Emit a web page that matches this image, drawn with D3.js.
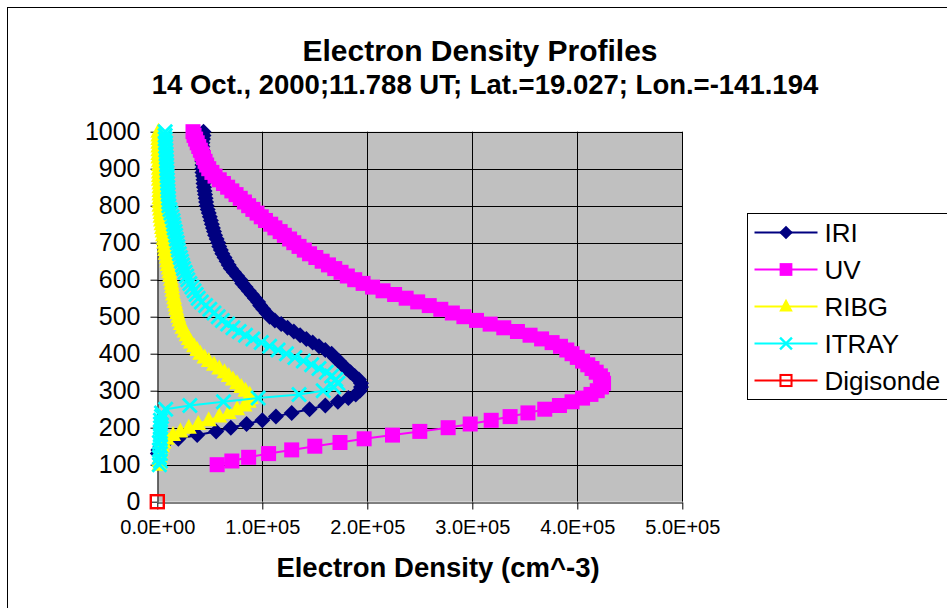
<!DOCTYPE html>
<html>
<head>
<meta charset="utf-8">
<script src="https://cdn.jsdelivr.net/npm/d3@7"></script>
<style>
  body { margin: 0; background: #fff; }
  text { font-family: Arial, "Liberation Sans", sans-serif; fill: #000; }
</style>
</head>
<body>
<div id="chart"></div>
<script>
// altitude (km), shared by the model profiles
var heights = [
  100, 110, 120, 130, 140, 150, 160, 170, 180, 190,
  200, 210, 220, 230, 240, 250, 260, 270, 280, 290,
  300, 310, 320, 330, 340, 350, 360, 370, 380, 390,
  400, 410, 420, 430, 440, 450, 460, 470, 480, 490,
  500, 510, 520, 530, 540, 550, 560, 570, 580, 590,
  600, 610, 620, 630, 640, 650, 660, 670, 680, 690,
  700, 710, 720, 730, 740, 750, 760, 770, 780, 790,
  800, 810, 820, 830, 840, 850, 860, 870, 880, 890,
  900, 910, 920, 930, 940, 950, 960, 970, 980, 990,
  1000
];

// electron density (cm^-3) per height
var iri = [
  null, null, null, 500, 1000, 3000, 8000, 20000, 38000, 56000,
  70000, 85000, 100000, 113000, 128000, 145000, 160000, 172000, 182000, 189000,
  193000, 194000, 194000, 192000, 188000, 184000, 180000, 176000, 173000, 169000,
  166000, 160000, 154000, 148000, 142000, 136000, 130000, 124000, 118000, 112000,
  107000, 104000, 101000, 98000, 96000, 93000, 90000, 87000, 84000, 81000,
  79000, 76000, 73000, 70000, 68000, 66000, 64000, 62000, 60500, 59000,
  58000, 56500, 55000, 54000, 53000, 52000, 51000, 50000, 49000, 48000,
  47000, 46500, 46000, 45500, 45000, 44500, 44000, 44000, 43500, 43000,
  43000, 43000, 43000, 43000, 43000, 43000, 43000, 43000, 43500, 44000,
  44000
];

var uv = [
  57000, 71000, 87000, 106000, 128000, 150000, 174000, 197000, 224000, 250000,
  277000, 298000, 318000, 336000, 353000, 369000, 383000, 395000, 405000, 413000,
  419000, 423000, 425000, 424000, 422000, 418000, 414000, 410000, 405000, 400000,
  395000, 390000, 384000, 376000, 366000, 355000, 343000, 330000, 317000, 304000,
  292000, 281000, 270000, 259000, 248000, 237000, 226000, 215000, 205000, 196000,
  188000, 181000, 175000, 169000, 163000, 157000, 151000, 145000, 140000, 135000,
  130000, 126000, 121000, 117000, 112000, 108000, 103000, 99000, 95000, 91000,
  87000, 83000, 79000, 75000, 71000, 67000, 63000, 59000, 55000, 52000,
  49000, 47000, 45500, 44000, 42500, 41000, 39500, 38000, 36500, 35000,
  34000
];

var ribg = [
  2000, 2000, 2500, 3000, 3500, 4500, 6000, 9000, 15000, 22000,
  30000, 39000, 49000, 59000, 68000, 76000, 83000, 87000, 89000, 88000,
  84000, 80000, 76000, 72000, 68000, 64000, 59000, 54000, 49000, 45000,
  41000, 38000, 35000, 32000, 30000, 28000, 26000, 24000, 22500, 21000,
  20000, 19000, 18000, 17500, 16500, 16000, 15000, 14500, 14000, 13500,
  13000, 12000, 11500, 11000, 10000, 9500, 9000, 8000, 7500, 7000,
  6500, 6000, 5500, 5000, 4500, 4000, 3500, 3000, 3000, 2500,
  2000, 2000, 2000, 2000, 2000, 2000, 2000, 1500, 1500, 1500,
  1500, 1500, 1500, 1000, 1000, 1000, 1000, 1000, 1000, 1000,
  1000
];

var itray = [
  2000, 3000, 2000, 3000, 2000, 3000, 2000, 3000, 3000, 3000,
  3000, 3000, 3000, 4000, 4000, 8000, 31000, 63000, 96000, 135000,
  158000, 168000, 172000, 170000, 166000, 161000, 154000, 147000, 139000, 131000,
  123000, 115000, 107000, 99000, 91000, 84000, 78000, 72000, 67000, 62000,
  58000, 54000, 50000, 46000, 42000, 39000, 37000, 35000, 33000, 31000,
  29000, 28000, 26500, 25000, 24000, 23000, 22000, 21000, 20000, 19500,
  19000, 18000, 17500, 17000, 16000, 15500, 15000, 14000, 13000, 12000,
  11000, 10800, 10600, 10400, 10200, 10000, 9800, 9600, 9400, 9200,
  9000, 9000, 8800, 8600, 8400, 8200, 8000, 7800, 7500, 7500,
  7500
];

// digisonde: single point
var digiHeights = [0];
var digi = [0];

var seriesNames = ["IRI", "UV", "RIBG", "ITRAY", "Digisonde"];
var seriesColors = ["#000080", "#FF00FF", "#FFFF00", "#00FFFF", "#FF0000"];
var seriesMarkers = ["diamond", "square", "triangle", "x", "open"];

var xTicks = [0, 100000, 200000, 300000, 400000, 500000];
var yTicks = [0, 100, 200, 300, 400, 500, 600, 700, 800, 900, 1000];

// set up layout
var W = 947, H = 608;
var plot = { left: 157.3, right: 682.3, top: 131.7, bottom: 501.7 };

var svg = d3.select("#chart").append("svg")
    .attr("width", W)
    .attr("height", H);

// chart area border
svg.append("rect")
    .attr("x", 7.5).attr("y", 7.5)
    .attr("width", 960).attr("height", 620)
    .attr("fill", "#fff")
    .attr("stroke", "#000");

var x = d3.scaleLinear().domain([0, 500000]).range([plot.left, plot.right]);
var y = d3.scaleLinear().domain([0, 1000]).range([plot.bottom, plot.top]);

// plot area
svg.append("rect")
    .attr("x", plot.left).attr("y", plot.top)
    .attr("width", plot.right - plot.left)
    .attr("height", plot.bottom - plot.top)
    .attr("fill", "#C0C0C0");

// gridlines
svg.append("g").selectAll("line")
    .data(yTicks.slice(1))
    .enter().append("line")
    .attr("x1", plot.left).attr("x2", plot.right)
    .attr("y1", function (d) { return Math.round(y(d)) + 0.5; })
    .attr("y2", function (d) { return Math.round(y(d)) + 0.5; })
    .attr("stroke", "#000");

svg.append("g").selectAll("line")
    .data(xTicks.slice(1))
    .enter().append("line")
    .attr("y1", plot.top).attr("y2", plot.bottom)
    .attr("x1", function (d) { return Math.round(x(d)) + 0.5; })
    .attr("x2", function (d) { return Math.round(x(d)) + 0.5; })
    .attr("stroke", "#000");

function sci(d) {
    if (d === 0) return "0.0E+00";
    var e = Math.floor(Math.log10(d));
    var m = d / Math.pow(10, e);
    return m.toFixed(1) + "E+" + (e < 10 ? "0" + e : e);
}

// x-axis
var xAxis = svg.append("g")
    .attr("transform", "translate(0," + (Math.round(plot.bottom) + 0.5) + ")")
    .call(d3.axisBottom(x).tickValues(xTicks).tickFormat(sci).tickSize(7).tickPadding(10).tickSizeOuter(0));
xAxis.selectAll("text").attr("font-size", 20).attr("font-family", "Arial, 'Liberation Sans', sans-serif");

// y-axis
var yAxis = svg.append("g")
    .attr("transform", "translate(" + (Math.round(plot.left) + 0.5) + ",0)")
    .call(d3.axisLeft(y).tickValues(yTicks).tickFormat(d3.format("d")).tickSize(7).tickPadding(10).tickSizeOuter(0));
yAxis.selectAll("text").attr("font-size", 25).attr("font-family", "Arial, 'Liberation Sans', sans-serif");
svg.selectAll(".domain, .tick line").attr("stroke", "#000");

// titles
svg.append("text")
    .attr("x", 480).attr("y", 61)
    .attr("text-anchor", "middle")
    .attr("font-size", 30).attr("font-weight", "bold")
    .text("Electron Density Profiles");

svg.append("text")
    .attr("x", 485).attr("y", 94)
    .attr("text-anchor", "middle")
    .attr("font-size", 27.5).attr("font-weight", "bold")
    .text("14 Oct., 2000;11.788 UT; Lat.=19.027; Lon.=-141.194");

svg.append("text")
    .attr("x", 438).attr("y", 577)
    .attr("text-anchor", "middle")
    .attr("font-size", 27.5).attr("font-weight", "bold")
    .text("Electron Density (cm^-3)");

// marker drawing
function drawMarker(g, type, color, k) {
    k = k || 1;
    if (type == "diamond") {
        g.append("path").attr("d", "M0,-8L8,0L0,8L-8,0Z").attr("fill", color)
            .attr("transform", "scale(" + k + ")");
    } else if (type == "square") {
        g.append("rect").attr("x", -7.5).attr("y", -7.5).attr("width", 15).attr("height", 15).attr("fill", color)
            .attr("transform", "scale(" + k + ")");
    } else if (type == "triangle") {
        g.append("path").attr("d", "M0,-9L8,6L-8,6Z").attr("fill", color)
            .attr("transform", "scale(" + k + ")");
    } else if (type == "x") {
        g.append("path").attr("d", "M-7,-7L7,7M-7,7L7,-7")
            .attr("stroke", color).attr("stroke-width", 2.8).attr("fill", "none")
            .attr("transform", "scale(" + k + ")");
    } else if (type == "open") {
        g.append("rect").attr("x", -6.5).attr("y", -6.5).attr("width", 13).attr("height", 13)
            .attr("fill", "none").attr("stroke", color).attr("stroke-width", 2.4)
            .attr("transform", "scale(" + k + ")");
    }
}

var series = [
    { h: heights, v: iri },
    { h: heights, v: uv },
    { h: heights, v: ribg },
    { h: heights, v: itray },
    { h: digiHeights, v: digi }
];

var line = d3.line()
    .defined(function (d) { return d.v != null; })
    .x(function (d) { return x(d.v); })
    .y(function (d) { return y(d.h); });

// draw series
series.forEach(function (s, i) {
    var pts = s.h.map(function (h, j) { return { h: h, v: s.v[j] }; });
    var g = svg.append("g").attr("class", "series");
    g.append("path")
        .datum(pts)
        .attr("d", line)
        .attr("fill", "none")
        .attr("stroke", seriesColors[i])
        .attr("stroke-width", 2);
    pts.filter(function (d) { return d.v != null; }).forEach(function (d) {
        var m = g.append("g").attr("transform", "translate(" + x(d.v) + "," + y(d.h) + ")");
        drawMarker(m, seriesMarkers[i], seriesColors[i]);
    });
});

// draw legend
var legend = svg.append("g").attr("transform", "translate(747.5,213.5)");
legend.append("rect")
    .attr("width", 260).attr("height", 186)
    .attr("fill", "#fff").attr("stroke", "#000");

seriesNames.forEach(function (name, i) {
    var row = legend.append("g").attr("transform", "translate(0," + (19 + i * 37) + ")");
    row.append("line")
        .attr("x1", 7).attr("x2", 70)
        .attr("stroke", seriesColors[i]).attr("stroke-width", 2);
    drawMarker(row.append("g").attr("transform", "translate(38.5,0)"), seriesMarkers[i], seriesColors[i], 0.85);
    row.append("text")
        .attr("x", 77).attr("dy", "0.36em")
        .attr("font-size", 26)
        .text(name);
});
</script>
</body>
</html>
